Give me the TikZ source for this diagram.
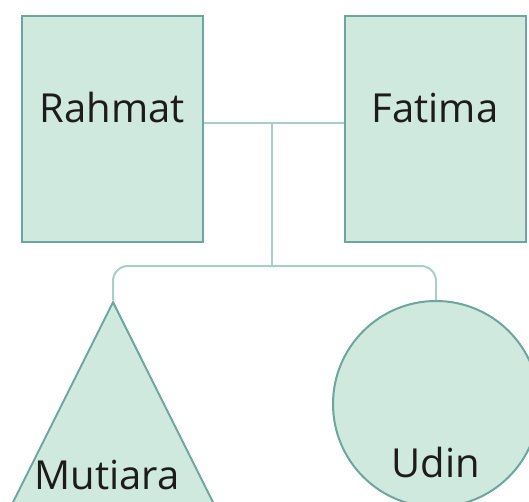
\documentclass[tikz,border=0pt]{standalone}
\usepackage{fontspec}
\setmainfont{Open Sans}
\usetikzlibrary{shapes.geometric}
\definecolor{boxfill}{RGB}{208,233,223}
\definecolor{boxline}{RGB}{108,166,156}
\definecolor{linkline}{RGB}{168,206,200}
\definecolor{ink}{RGB}{28,28,28}

\begin{document}
\begin{tikzpicture}[x=1pt,y=-1pt,
  person/.style={draw=boxline,fill=boxfill,line width=2pt,inner sep=0pt,text=ink,font=\fontsize{40}{40}\selectfont},
  parent/.style={person,rectangle,minimum width=181pt,text height=107pt,text depth=119pt},
  son/.style={person,circle,minimum size=206pt,text height=146pt,text depth=0pt},
  daughter/.style={person,isosceles triangle,shape border rotate=90,isosceles triangle apex angle=53.13,minimum height=240pt,minimum width=240pt},
  nametag/.style={inner sep=0pt,text=ink,font=\fontsize{40}{40}\selectfont},
  link/.style={draw=linkline,line width=2pt}]
\useasboundingbox (0,0) rectangle (529,502);
\node[parent] at (112.5,129)	(Rahmat) {Rahmat};
\node[parent] at (435,129)	(Fatima) {Fatima};
\node[daughter,anchor=apex] at (113,300)	(Mutiara) {};
\node[nametag,anchor=base] at (107,489)	(Mutiara-name) {Mutiara};
\node[son] at (436,404)	(Udin) {Udin};

\coordinate (couple) at (272,123);
\coordinate (bus) at (272,266);

\draw[link] (Rahmat.base east) -- (Fatima.base west);
\draw[link] (couple) -- (bus);
\draw[link,rounded corners=15pt] (Mutiara.apex) |- (bus) -| (Udin.north);
\end{tikzpicture}
\end{document}
